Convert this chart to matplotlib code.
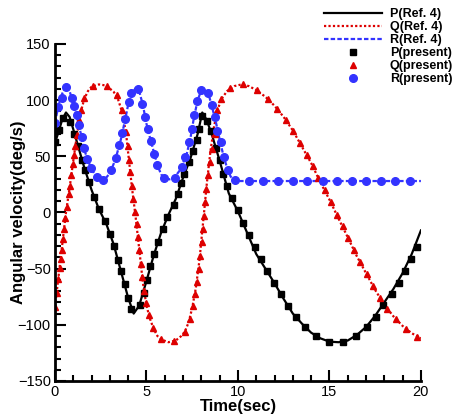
import matplotlib
matplotlib.use("Agg")
import matplotlib.pyplot as plt
from matplotlib.ticker import MultipleLocator

plt.rcParams['font.family'] = ['Liberation Sans', 'DejaVu Sans']

# reference solution (lines)
p_ref_t = [0, 0.2, 0.4, 0.6, 0.8, 1.0, 1.3, 1.6, 2.0, 2.4, 2.8, 3.2, 3.6, 4.0, 4.3, 4.6, 5.0,
           5.4, 5.8, 6.2, 6.6, 7.0, 7.4, 7.8, 8.05, 8.3, 8.6, 9.0, 9.5, 10.0, 10.5, 11.0, 11.5,
           12.0, 12.5, 13.0, 13.5, 14.0, 14.5, 15.0, 15.5, 16.0, 16.5, 17.0, 17.5, 18.0, 18.5,
           19.0, 19.5, 20.0]
p_ref = [62, 72, 83, 89, 85, 74, 57, 40, 20, 3, -10, -28, -52, -76, -90, -83, -61,
         -38, -18, -2, 12, 31, 48, 70, 89, 82, 68, 46, 17, 1, -18, -37, -50,
         -63, -77, -90, -99, -107, -112, -115, -115.5, -114, -109, -102, -92, -80, -68,
         -54, -37, -16]

q_ref_t = [0, 0.2, 0.4, 0.6, 0.8, 1.0, 1.2, 1.4, 1.6, 1.8, 2.0, 2.4, 2.8, 3.2, 3.4, 3.6, 3.8,
           3.9, 4.0, 4.2, 4.4, 4.6, 4.8, 5.0, 5.2, 5.4, 5.6, 5.8, 6.2, 6.6, 6.9, 7.1, 7.3, 7.5,
           7.7, 7.9, 8.1, 8.3, 8.5, 8.7, 8.9, 9.1, 9.4, 9.8, 10.2, 10.6, 11.0, 11.5, 12.0, 12.5,
           13.0, 13.5, 14.0, 14.5, 15.0, 15.5, 16.0, 16.5, 17.0, 17.5, 18.0, 18.5, 19.0, 19.5, 20.0]
q_ref = [-84, -56, -28, 0, 22, 46, 69, 89, 101, 108, 112, 114, 113, 107.5, 103, 93, 78,
         68, 53, 23, -3, -32, -62, -83, -95, -104, -110, -113, -115.5, -114, -110, -106, -98, -85,
         -67, -42, -8, 26, 55, 77, 92, 101, 108, 112.5, 114, 112.5, 109, 103, 95, 85,
         73, 58.5, 44, 27, 11.5, -5.5, -22, -39, -54, -69, -82, -92.5, -101, -107.5, -112]

r_ref_t = [0, 0.2, 0.4, 0.6, 0.8, 1.0, 1.2, 1.4, 1.6, 1.8, 2.0, 2.2, 2.4, 2.6, 2.8, 3.0, 3.2,
           3.4, 3.6, 3.8, 4.0, 4.2, 4.4, 4.6, 4.8, 5.0, 5.2, 5.4, 5.6, 5.8, 6.0, 6.25, 6.5, 6.8,
           7.0, 7.2, 7.4, 7.6, 7.8, 8.0, 8.2, 8.4, 8.6, 8.8, 9.0, 9.2, 9.4, 9.6, 9.8, 10.0, 20.0]
r_ref = [80, 96, 106, 113, 108, 97, 85, 71, 56, 46, 39, 33, 29.5, 28.5, 31, 35, 43,
         53, 65, 80, 96, 106, 110.5, 108, 96, 79, 66, 54, 42, 34, 30.5, 29.5, 30.5, 37,
         44, 52, 66, 85, 100, 109, 109.5, 105, 93, 80, 65, 51, 40, 32, 28.5, 28, 28]

# present solution (markers)
p_pre_t = [0.0, 0.22, 0.45, 0.82, 1.05, 1.27, 1.45, 1.64, 1.87, 2.13, 2.40, 2.73, 3.01, 3.24,
           3.44, 3.59, 3.83, 3.99, 4.15, 4.63, 4.86, 5.03, 5.17, 5.41, 5.61, 5.90, 6.14, 6.50,
           6.70, 6.89, 7.07, 7.31, 7.56, 7.74, 7.89, 8.05, 8.29, 8.52, 8.78, 9.02, 9.16, 9.42,
           9.67, 9.98, 10.26, 10.60, 10.93, 11.26, 11.58, 11.97, 12.33, 12.72, 13.17, 13.66,
           14.25, 14.97, 15.72, 16.43, 17.03, 17.52, 17.94, 18.40, 18.78, 19.13, 19.44, 19.77]
p_pre = [62.6, 73, 84, 80.4, 70, 58.8, 47, 37.4, 27, 13.6, 2.7, -8, -19, -30,
         -42, -52, -64, -76, -86, -82, -71.5, -60, -48, -37, -26, -14.5, -3.6, 7,
         16.7, 26.4, 34.5, 44.5, 54.6, 64.1, 74.5, 85.5, 81, 72.4, 57.6, 46.3, 34.5, 23.2,
         12.5, 2, -9.2, -19.9, -30.5, -41.2, -51.9, -62.6, -72.4, -83.1, -93.2, -101.8,
         -109.8, -115.1, -115.1, -109.8, -101.8, -92.9, -82.8, -72.4, -62.6, -51.9, -41.2, -30.5]

q_pre_t = [0.0, 0.086, 0.18, 0.25, 0.31, 0.36, 0.43, 0.49, 0.56, 0.64, 0.75, 0.81, 0.89, 0.98,
           1.04, 1.11, 1.2, 1.33, 1.43, 1.6, 2.09, 2.82, 3.37, 3.64, 3.88, 3.97, 4.04, 4.10,
           4.19, 4.28, 4.37, 4.46, 4.54, 4.61, 4.68, 4.75, 4.86, 4.97, 5.12, 5.37, 5.79, 6.52,
           7.10, 7.38, 7.52, 7.65, 7.74, 7.85, 7.92, 8.01, 8.07, 8.14, 8.20, 8.28, 8.37, 8.45,
           8.56, 8.72, 8.87, 9.08, 9.54, 10.29, 11.03, 11.66, 12.16, 12.62, 13.02, 13.39, 13.75,
           14.12, 14.39, 14.75, 15.08, 15.39, 15.72, 16.03, 16.34, 16.67, 17.03, 17.36, 17.76,
           18.16, 18.63, 19.16, 19.77]
q_pre = [-84, -72, -59, -49, -41, -33, -24, -15, -5, 4.7, 16.7, 23.4, 33, 43,
         51, 59, 69, 82, 91.6, 101.8, 112.5, 112.5, 104.4, 90.8, 71.5, 58.8, 46.3, 35.9,
         24, 12.2, 0.3, -10.7, -22, -33.8, -45.7, -57, -69.5, -80.8, -91.7, -103, -112.5, -114,
         -106.6, -94.7, -83.7, -72.4, -62, -50, -38.3, -26.4, -14.5, -2.7, 9.2, 21, 33, 44.5,
         56.5, 70, 90.8, 101, 110.8, 114, 109, 101, 92, 82.5, 72.4, 61.7, 51.4,
         41, 30.9, 19.6, 9.2, -1.8, -12.2, -22.9, -33.8, -44.5, -54.6, -65.3, -76,
         -85.5, -95, -103.6, -111]

r_pre_t = [0.0, 0.18, 0.36, 0.62, 0.91, 1.04, 1.18, 1.32, 1.45, 1.58, 1.77, 1.97, 2.28, 2.6,
           3.06, 3.32, 3.5, 3.68, 3.84, 4.04, 4.15, 4.52, 4.77, 4.92, 5.07, 5.25, 5.43, 5.59,
           5.96, 6.56, 6.92, 7.13, 7.34, 7.5, 7.61, 7.78, 7.97, 8.38, 8.56, 8.74, 8.87, 9.05,
           9.23, 9.47, 9.84, 10.62, 11.38, 12.2, 12.99, 13.79, 14.63, 15.39, 16.21, 16.99,
           17.81, 18.58, 19.4]
r_pre = [79.5, 93.8, 102, 112, 102, 94.4, 87, 77.5, 67, 57, 48, 40, 32, 28.5,
         37.4, 48.7, 59.7, 71, 83.4, 98.2, 106.3, 109.5, 96.8, 84.9, 74.5, 63.2, 52.3, 41.9,
         30.9, 30.9, 40.3, 49.2, 63, 74.5, 86.4, 99.5, 109, 106.6, 95.9, 84.9, 72.1, 62.6,
         49.2, 38, 29.1, 28, 28, 28, 28, 28, 28, 28, 28, 28,
         28, 28, 28]

fig = plt.figure(figsize=(4.61, 4.15), dpi=100)
ax = fig.add_axes([0.1193, 0.082, 0.7937, 0.812])

red = "#dd0000"
blue = "#3333ff"

ax.plot(p_ref_t, p_ref, color="black", lw=1.6, label="P(Ref. 4)")
ax.plot(q_ref_t, q_ref, color=red, lw=1.6, linestyle=(0, (1, 1)), label="Q(Ref. 4)")
ax.plot(r_ref_t, r_ref, color=blue, lw=1.6, linestyle=(0, (2, 1)), label="R(Ref. 4)")
ax.plot(p_pre_t, p_pre, "s", color="black", ms=4.5, ls="none", label="P(present)")
ax.plot(q_pre_t, q_pre, "^", color=red, ms=4.5, ls="none", label="Q(present)")
ax.plot(r_pre_t, r_pre, "o", color=blue, ms=5.5, ls="none", label="R(present)")

ax.set_xlim(0, 20)
ax.set_ylim(-150, 150)
ax.xaxis.set_major_locator(MultipleLocator(5))
ax.xaxis.set_minor_locator(MultipleLocator(1))
ax.yaxis.set_major_locator(MultipleLocator(50))
ax.yaxis.set_minor_locator(MultipleLocator(10))
ax.tick_params(which="both", direction="in", width=1.5, labelsize=10.5, pad=3)
ax.tick_params(which="major", length=8)
ax.tick_params(which="minor", length=4)
ax.spines["top"].set_visible(False)
ax.spines["right"].set_visible(False)
ax.spines["left"].set_linewidth(2)
ax.spines["bottom"].set_linewidth(2)

ax.set_xlabel("Time(sec)", fontsize=12, fontweight="bold", labelpad=0)
ax.set_ylabel("Angular velocity(deg/s)", fontsize=12, fontweight="bold")
ax.yaxis.set_label_coords(-0.08, 0.5)

fig.legend(loc="upper right", bbox_to_anchor=(1.0, 1.0), frameon=False,
           prop={"weight": "bold", "size": 9}, handlelength=4.6, numpoints=1,
           labelspacing=0.08, handletextpad=0.65, borderpad=0.15)

fig.savefig("out.png", dpi=100)
